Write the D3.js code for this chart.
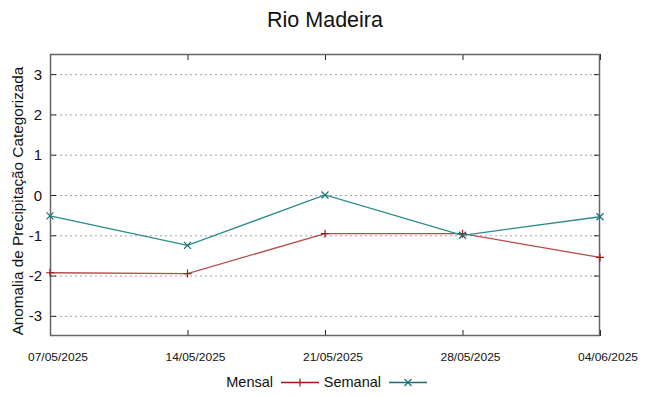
<!DOCTYPE html>
<html><head><meta charset="utf-8">
<script src="https://cdn.jsdelivr.net/npm/d3@7"></script>
<style>body{margin:0;background:#fff}svg{display:block}text{font-family:"Liberation Sans",Arial,sans-serif}</style>
</head><body><svg id="c" width="648" height="396"></svg>
<script>
const dates = ["07/05/2025","14/05/2025","21/05/2025","28/05/2025","04/06/2025"];
const mensal = [-1.93, -1.95, -0.96, -0.96, -1.55];
const semanal = [-0.52, -1.25, 0.0, -1.0, -0.54];
const yTicks = [-3,-2,-1,0,1,2,3];
const title = "Rio Madeira";
const yLabel = "Anomalia de Precipitação Categorizada";

const svg = d3.select("#c");
const L=50, R=600, T=54, B=336;
const x = d3.scalePoint().domain(dates).range([L,R]);
const y = d3.scaleLinear().domain([-3.5,3.5]).range([B,T]);

// grid
svg.append("g").selectAll("line").data(yTicks).join("line")
  .attr("x1",L).attr("x2",R).attr("y1",d=>y(d)+0.5).attr("y2",d=>y(d)+0.5)
  .attr("stroke","#a0a0a0").attr("stroke-width",1).attr("stroke-dasharray","2,3");

// ticks (inward) all sides
const tk = svg.append("g").attr("stroke","#222").attr("stroke-width",1);
yTicks.forEach(d=>{
  tk.append("line").attr("x1",L).attr("x2",L+6).attr("y1",y(d)+0.5).attr("y2",y(d)+0.5);
  tk.append("line").attr("x1",R-6).attr("x2",R).attr("y1",y(d)+0.5).attr("y2",y(d)+0.5);
});
dates.forEach(d=>{
  tk.append("line").attr("x1",x(d)+0.5).attr("x2",x(d)+0.5).attr("y1",B).attr("y2",B-6);
  tk.append("line").attr("x1",x(d)+0.5).attr("x2",x(d)+0.5).attr("y1",T).attr("y2",T+6);
});

// border
svg.append("rect").attr("x",L+0.5).attr("y",T+0.5).attr("width",R-L-1).attr("height",B-T-1)
  .attr("fill","none").attr("stroke","#666").attr("stroke-width",1.5);

// y tick labels
svg.append("g").selectAll("text").data(yTicks).join("text")
  .attr("x",L-8).attr("y",d=>y(d)+5.5).attr("text-anchor","end")
  .attr("font-size",15).attr("fill","#111").text(d=>d);

// x tick labels
svg.append("g").selectAll("text").data(dates).join("text")
  .attr("x",d=>x(d)+8).attr("y",361).attr("text-anchor","middle")
  .attr("font-size",11.5).attr("fill","#111").attr("textLength",60).attr("lengthAdjust","spacingAndGlyphs").text(d=>d);

// title
svg.append("text").attr("x",325).attr("y",27).attr("text-anchor","middle")
  .attr("font-size",21.5).attr("fill","#111").text(title);

// y label
svg.append("text").attr("transform","translate(23,"+((T+B)/2+6)+") rotate(-90)")
  .attr("text-anchor","middle").attr("font-size",15.3).attr("fill","#111").text(yLabel);

const redC="#b84a4a", tealC="#2a8a8a";
const line = d3.line().x((d,i)=>x(dates[i])).y(d=>y(d));
svg.append("path").datum(mensal).attr("d",line).attr("fill","none").attr("stroke",redC).attr("stroke-width",1.3);
svg.append("path").datum(semanal).attr("d",line).attr("fill","none").attr("stroke",tealC).attr("stroke-width",1.3);

// markers
const plus=(g,cx,cy,c)=>{g.append("path").attr("d",`M${cx-4},${cy}H${cx+4}M${cx},${cy-4}V${cy+4}`).attr("stroke",c).attr("stroke-width",1.2);};
const cross=(g,cx,cy,c)=>{g.append("path").attr("d",`M${cx-3.5},${cy-3.5}L${cx+3.5},${cy+3.5}M${cx-3.5},${cy+3.5}L${cx+3.5},${cy-3.5}`).attr("stroke",c).attr("stroke-width",1.2);};
const mg=svg.append("g");
mensal.forEach((v,i)=>plus(mg,x(dates[i]),y(v),"#a01818"));
semanal.forEach((v,i)=>cross(mg,x(dates[i]),y(v),"#1a7070"));

// legend
const lg=svg.append("g");
lg.append("text").attr("x",273).attr("y",387).attr("text-anchor","end").attr("font-size",14.5).attr("fill","#111").text("Mensal");
lg.append("line").attr("x1",281).attr("x2",319).attr("y1",382.5).attr("y2",382.5).attr("stroke","#a01818").attr("stroke-width",1.3);
plus(lg,300,382.5,"#a01818");
lg.append("text").attr("x",381).attr("y",387).attr("text-anchor","end").attr("font-size",14.5).attr("fill","#111").text("Semanal");
lg.append("line").attr("x1",389).attr("x2",427).attr("y1",382.5).attr("y2",382.5).attr("stroke","#1a7070").attr("stroke-width",1.3);
cross(lg,408,382.5,"#1a7070");
</script></body></html>
